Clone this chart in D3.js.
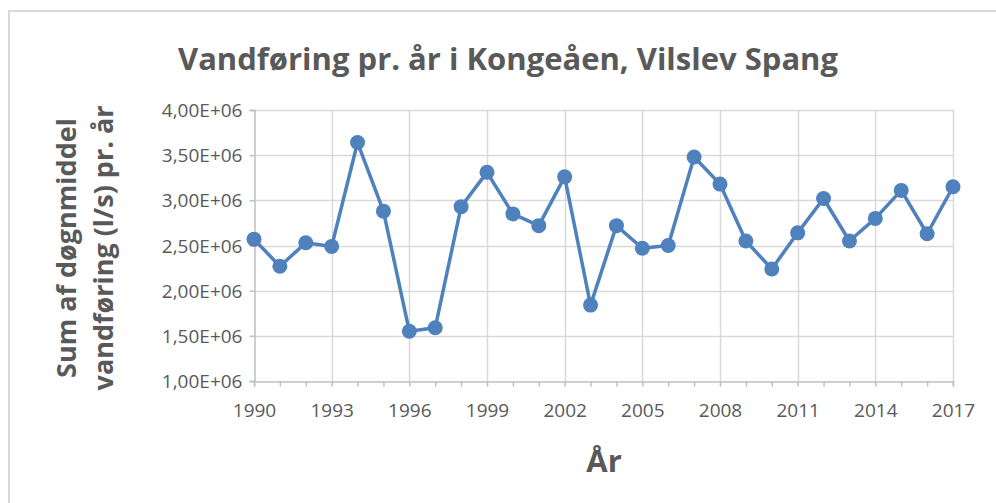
<!DOCTYPE html>
<html lang="da">
<head>
<meta charset="UTF-8">
<script src="https://d3js.org/d3.v7.min.js"></script>
<style>
  html, body { margin: 0; padding: 0; background: #fff; overflow: hidden; }
  text { font-family: "Open Sans", "Noto Sans", sans-serif; fill: #595959; }
</style>
</head>
<body>
<div id="chart"></div>
<script>
// data
const years = [1990, 1991, 1992, 1993, 1994, 1995, 1996, 1997, 1998, 1999,
  2000, 2001, 2002, 2003, 2004, 2005, 2006, 2007, 2008, 2009,
  2010, 2011, 2012, 2013, 2014, 2015, 2016, 2017];
const flow = [2.57e6, 2.27e6, 2.53e6, 2.49e6, 3.64e6, 2.88e6, 1.55e6, 1.59e6, 2.93e6, 3.31e6,
  2.85e6, 2.72e6, 3.26e6, 1.84e6, 2.72e6, 2.47e6, 2.50e6, 3.48e6, 3.18e6, 2.55e6,
  2.24e6, 2.64e6, 3.02e6, 2.55e6, 2.80e6, 3.11e6, 2.63e6, 3.15e6];
const xTicks = [1990, 1993, 1996, 1999, 2002, 2005, 2008, 2011, 2014, 2017];
const yTicks = [1e6, 1.5e6, 2e6, 2.5e6, 3e6, 3.5e6, 4e6];

const title = "Vandføring pr. år i Kongeåen, Vilslev Spang";
const xTitle = "År";
const yTitle = ["Sum af døgnmiddel", "vandføring (l/s) pr. år"];

const width = 996, height = 503;
const plot = { left: 254, right: 953, top: 110, bottom: 381 };
const blue = "#4f81bd";

const svg = d3.select("#chart").append("svg")
  .attr("width", width)
  .attr("height", height)
  .style("display", "block");

// chart frame (right and bottom edges fall outside the picture)
svg.append("rect")
  .attr("x", 9).attr("y", 11)
  .attr("width", 1000).attr("height", 500)
  .attr("fill", "#fff")
  .attr("stroke", "#d9d9d9")
  .attr("stroke-width", 2);

const x = d3.scaleLinear().domain([1990, 2017]).range([plot.left, plot.right]);
const y = d3.scaleLinear().domain([1e6, 4e6]).range([plot.bottom, plot.top]);

const fmt = v => (v / 1e6).toFixed(2).replace(".", ",") + "E+06";

// horizontal gridlines
svg.append("g")
  .selectAll("line")
  .data(yTicks.filter(d => d > 1e6))
  .join("line")
  .attr("x1", plot.left).attr("x2", plot.right)
  .attr("y1", d => Math.round(y(d)) + 0.5).attr("y2", d => Math.round(y(d)) + 0.5)
  .attr("stroke", "#d9d9d9").attr("stroke-width", 1.5);

// vertical gridlines
svg.append("g")
  .selectAll("line")
  .data(xTicks.filter(d => d > 1990))
  .join("line")
  .attr("x1", d => Math.round(x(d)) + 0.5).attr("x2", d => Math.round(x(d)) + 0.5)
  .attr("y1", plot.top).attr("y2", plot.bottom)
  .attr("stroke", "#d9d9d9").attr("stroke-width", 1.5);

// y axis
const yAxis = svg.append("g")
  .attr("transform", `translate(${Math.round(x(1990)) + 0.5},0)`)
  .call(d3.axisLeft(y).tickValues(yTicks).tickFormat(fmt).tickSize(5).tickPadding(7));
yAxis.select(".domain").attr("stroke", "#bfbfbf").attr("stroke-width", 1.5);
yAxis.selectAll(".tick line").attr("stroke", "#bfbfbf").attr("stroke-width", 1.5);
yAxis.selectAll(".tick text")
  .attr("font-size", 19)
  .attr("font-family", null)
  .attr("fill", "#595959")
  .attr("dy", "0.35em");

// x axis: minor ticks every year, labels every third
const xAxis = svg.append("g")
  .attr("transform", `translate(0,${Math.round(y(1e6)) + 0.5})`)
  .call(d3.axisBottom(x).tickValues(years).tickSize(5).tickFormat(""));
xAxis.select(".domain").attr("stroke", "#bfbfbf").attr("stroke-width", 1.5);
xAxis.selectAll(".tick line").attr("stroke", "#bfbfbf").attr("stroke-width", 1.5);

const xLabels = svg.append("g")
  .attr("transform", `translate(0,${Math.round(y(1e6))})`)
  .call(d3.axisBottom(x).tickValues(xTicks).tickFormat(d3.format("d")).tickSize(0).tickPadding(23));
xLabels.select(".domain").remove();
xLabels.selectAll(".tick text")
  .attr("font-size", 19)
  .attr("font-family", null)
  .attr("fill", "#595959");

// line + markers
const line = d3.line()
  .x((d, i) => x(years[i]))
  .y(d => y(d));

svg.append("path")
  .datum(flow)
  .attr("d", line)
  .attr("fill", "none")
  .attr("stroke", blue)
  .attr("stroke-width", 3.5)
  .attr("stroke-linejoin", "round");

svg.append("g")
  .selectAll("circle")
  .data(flow)
  .join("circle")
  .attr("cx", (d, i) => x(years[i]))
  .attr("cy", d => y(d))
  .attr("r", 7.5)
  .attr("fill", blue);

// titles
svg.append("text")
  .attr("x", 508).attr("y", 70)
  .attr("text-anchor", "middle")
  .attr("font-size", 31)
  .attr("font-weight", "bold")
  .text(title);

svg.append("text")
  .attr("x", 604).attr("y", 472)
  .attr("text-anchor", "middle")
  .attr("font-size", 31)
  .attr("font-weight", "bold")
  .text(xTitle);

const yt = svg.append("text")
  .attr("transform", "translate(66,248) rotate(-90)")
  .attr("text-anchor", "middle")
  .attr("font-size", 27)
  .attr("font-weight", "bold");
yt.selectAll("tspan")
  .data(yTitle)
  .join("tspan")
  .attr("x", 0)
  .attr("y", (d, i) => i * 37 + 10)
  .text(d => d);
</script>
</body>
</html>
